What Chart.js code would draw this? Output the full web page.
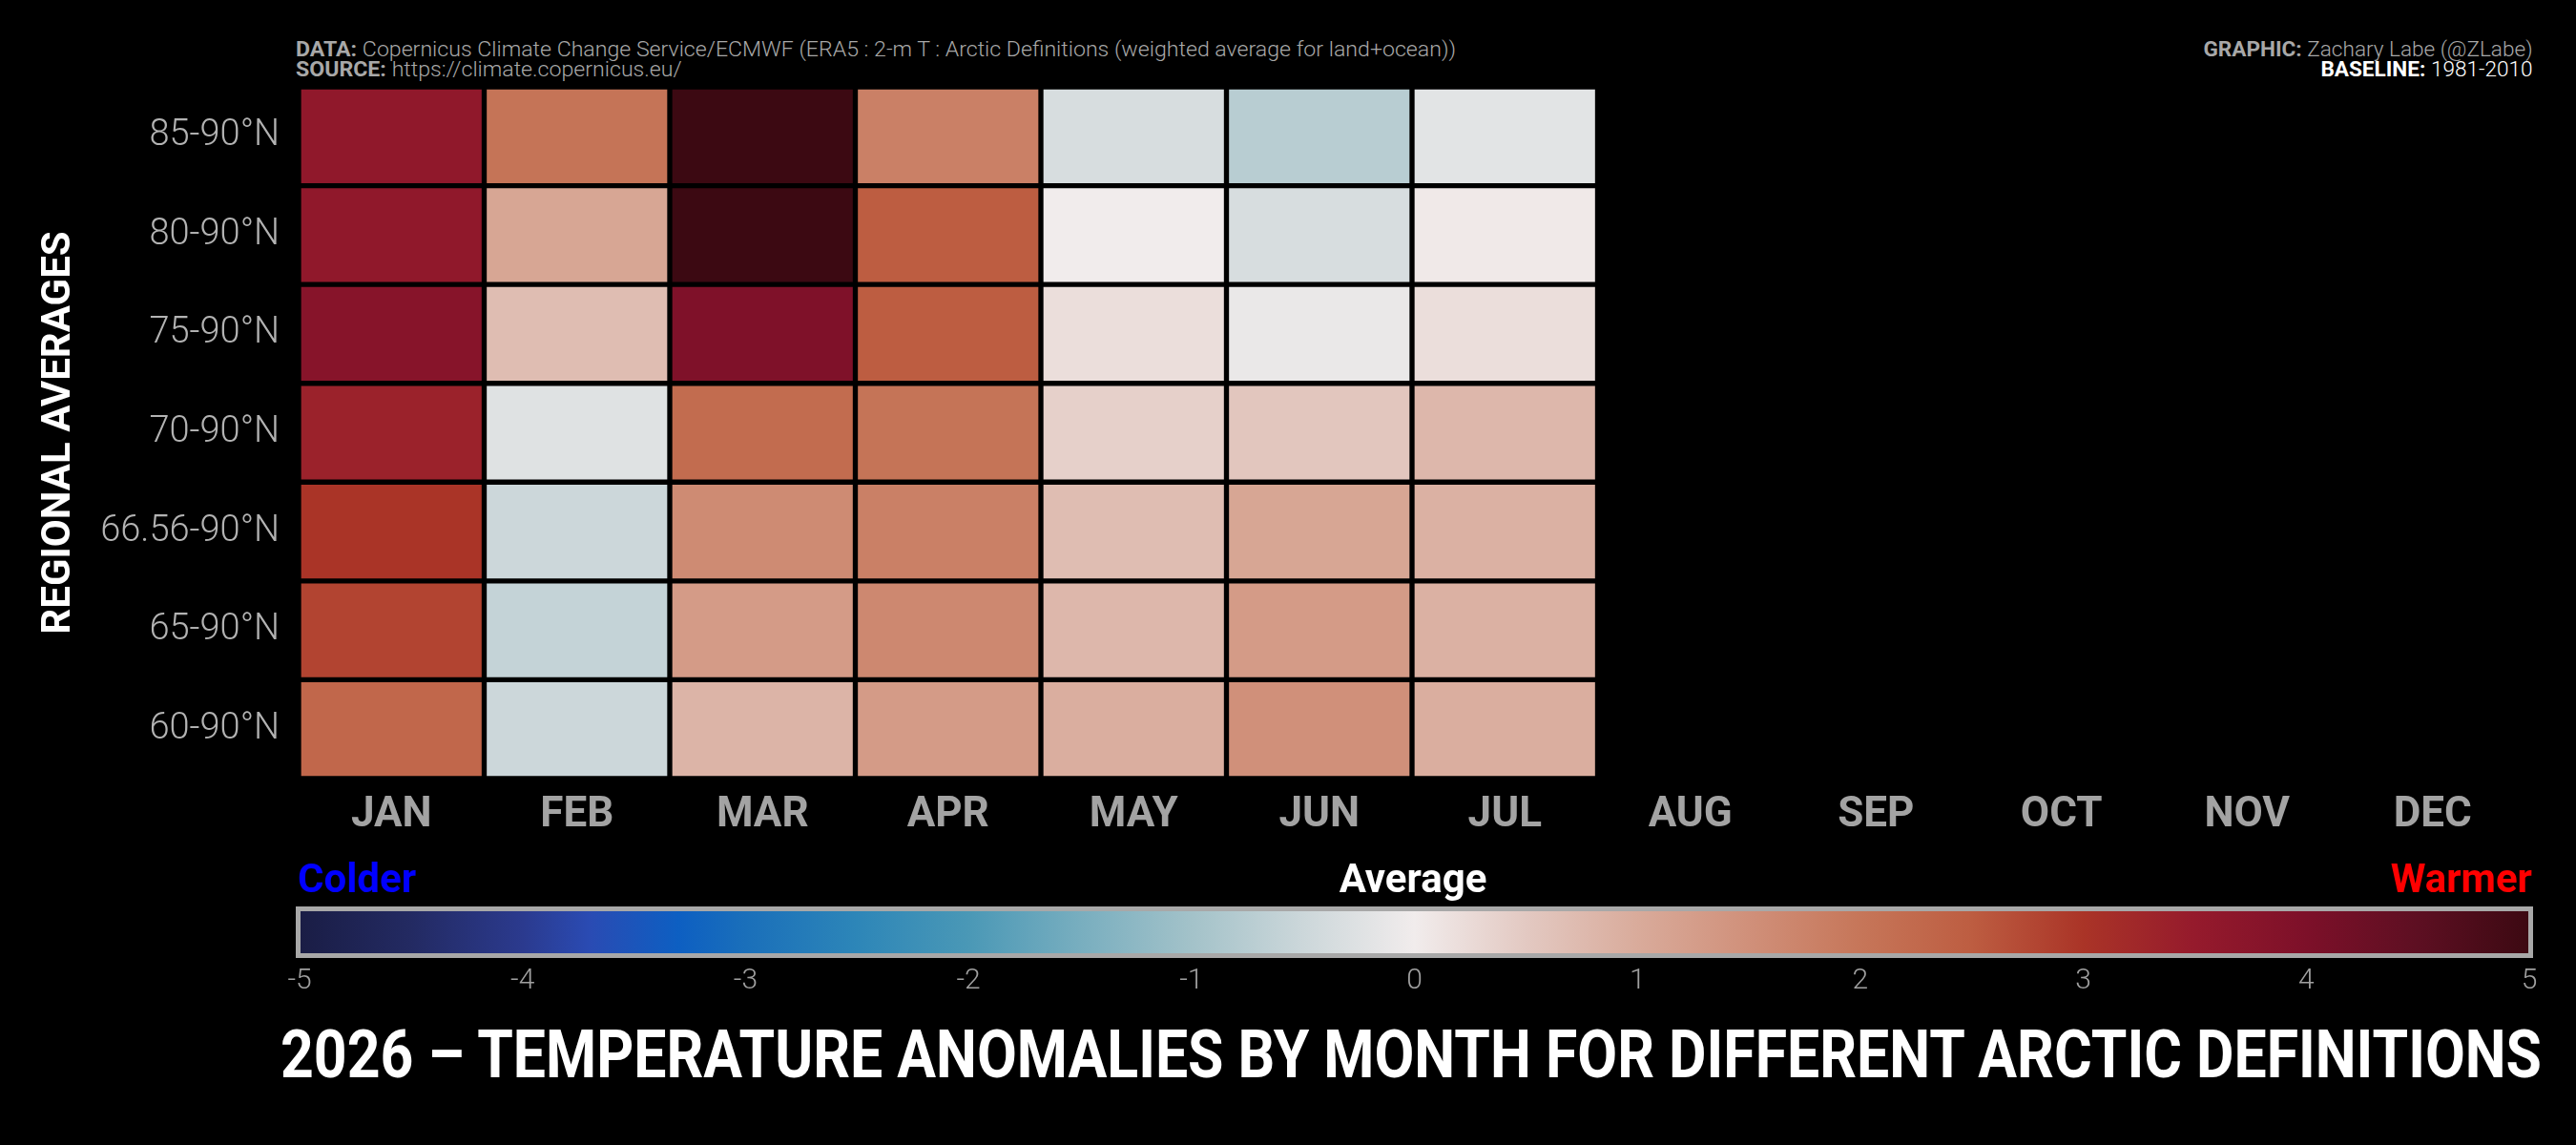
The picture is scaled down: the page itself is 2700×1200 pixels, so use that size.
<!DOCTYPE html>
<html>
<head>
<meta charset="utf-8">
<title>2026 Arctic Temperature Anomalies</title>
<script src="https://cdn.jsdelivr.net/npm/chart.js"></script>
<style>
  body { margin: 0; background: #000; width: 2700px; height: 1200px; position: relative; overflow: hidden; font-family: Roboto, sans-serif; }
  .abs { position: absolute; white-space: nowrap; }
  #heatBox { position: absolute; left: 0; top: 0; width: 2700px; height: 900px; }
  #cbarBox { position: absolute; left: 0; top: 930px; width: 2700px; height: 140px; }
  .lite { font-weight: 300; }
  b { font-weight: 700; }
</style>
</head>
<body>
  <div class="abs" id="credits" style="left:310px; top:41px; font-size:22px; line-height:21px; color:#a8a8a8;">
    <div><b>DATA:</b> <span class="lite">Copernicus Climate Change Service/ECMWF (ERA5 : 2-m T : Arctic Definitions (weighted average for land+ocean))</span></div>
    <div><b>SOURCE:</b> <span class="lite">https://climate.copernicus.eu/</span></div>
  </div>
  <div class="abs" id="author" style="right:46px; top:41px; font-size:22px; line-height:21px; text-align:right;">
    <div style="color:#a8a8a8"><b>GRAPHIC:</b> <span class="lite">Zachary Labe (@ZLabe)</span></div>
    <div style="color:#fff"><b>BASELINE:</b> <span class="lite">1981-2010</span></div>
  </div>

  <div id="heatBox"><canvas id="heat"></canvas></div>

  <div class="abs" style="left:312px; top:900px; font-size:42px; line-height:42px; font-weight:700; color:#0000ff;">Colder</div>
  <div class="abs" style="left:1481px; top:900px; font-size:42px; line-height:42px; font-weight:700; color:#fff; transform:translateX(-50%);">Average</div>
  <div class="abs" style="right:46px; top:900px; font-size:42px; line-height:42px; font-weight:700; color:#ff0000;">Warmer</div>

  <div id="cbarBox"><canvas id="cbar"></canvas></div>

  <div class="abs" id="title" style="left:294px; top:1070px; font-size:70px; line-height:70px; font-weight:700; color:#fff;">2026 – TEMPERATURE ANOMALIES BY MONTH FOR DIFFERENT ARCTIC DEFINITIONS</div>

<script>
// months on x, regions top-to-bottom on y
const months = ['JAN','FEB','MAR','APR','MAY','JUN','JUL','AUG','SEP','OCT','NOV','DEC'];
const regions = ['85-90°N','80-90°N','75-90°N','70-90°N','66.56-90°N','65-90°N','60-90°N'];

// anomalies (°C) per region, JAN..JUL (rest of year not available yet)
const r85 = [3.6, 2.05, 5.0, 1.8, -0.35, -0.75, -0.2];
const r80 = [3.6, 1.1, 5.0, 2.5, 0.0, -0.35, 0.05];
const r75 = [3.8, 0.7, 3.95, 2.5, 0.2, -0.1, 0.2];
const r70 = [3.35, -0.25, 2.2, 2.05, 0.4, 0.55, 0.8];
const r66 = [3.0, -0.5, 1.6, 1.8, 0.7, 1.1, 0.9];
const r65 = [2.8, -0.6, 1.3, 1.65, 0.8, 1.3, 0.9];
const r60 = [2.3, -0.5, 0.85, 1.3, 0.95, 1.5, 0.95];
const rows = [r85, r80, r75, r70, r66, r65, r60];

const cbarTicks = [-5, -4, -3, -2, -1, 0, 1, 2, 3, 4, 5];

// diverging colormap (blue - white - red)
const cmap = [
  [-5, '#1a1d45'], [-4.5, '#232a62'], [-4, '#2b3a8e'], [-3.7, '#2a4bb3'],
  [-3.3, '#0d5fc2'], [-3, '#1a6fba'], [-2.5, '#2d86b8'], [-2, '#4a98b6'],
  [-1.5, '#78aebf'], [-1, '#a3c2c9'], [-0.5, '#ccd7da'], [0, '#f1ecec'],
  [0.5, '#e3c9c2'], [1, '#d9ab9b'], [1.5, '#d0907a'], [2, '#c67659'],
  [2.5, '#bd5d41'], [3, '#aa3427'], [3.5, '#951a2c'], [4, '#7d1029'],
  [4.5, '#5d0f22'], [5, '#3c0912']
];

function hexRgb(h) {
  return [1, 3, 5].map(i => parseInt(h.slice(i, i + 2), 16));
}

function colorFor(v) {
  if (v <= cmap[0][0]) return cmap[0][1];
  if (v >= cmap[cmap.length - 1][0]) return cmap[cmap.length - 1][1];
  for (let i = 0; i < cmap.length - 1; i++) {
    const [v0, c0] = cmap[i], [v1, c1] = cmap[i + 1];
    if (v >= v0 && v <= v1) {
      const t = (v - v0) / (v1 - v0);
      const a = hexRgb(c0), b = hexRgb(c1);
      const c = a.map((x, k) => Math.round(x + (b[k] - x) * t));
      return `rgb(${c[0]},${c[1]},${c[2]})`;
    }
  }
}

Chart.defaults.font.family = 'Roboto, sans-serif';

const nRows = regions.length;

new Chart(document.getElementById('heat'), {
  type: 'bar',
  data: {
    labels: months,
    datasets: rows.map((vals, i) => ({
      label: regions[i],
      data: vals.map(v => v === null ? null : [nRows - 1 - i, nRows - i]),
      backgroundColor: vals.map(colorFor),
      borderColor: '#000',
      borderWidth: 3,
      borderSkipped: false,
      barPercentage: 1,
      categoryPercentage: 1,
      grouped: false
    }))
  },
  options: {
    responsive: true,
    maintainAspectRatio: false,
    animation: false,
    layout: { padding: { top: 91, right: 53, bottom: 4, left: 0 } },
    plugins: { legend: { display: false }, tooltip: { enabled: false } },
    scales: {
      x: {
        grid: { display: false, drawTicks: false },
        border: { display: false },
        ticks: { color: '#a3a3a3', font: { size: 44, weight: 'bold' }, padding: 13, maxRotation: 0, autoSkip: false },
        afterFit: s => { s.height = 80; }
      },
      y: {
        min: 0,
        max: nRows,
        grid: { display: false, drawTicks: false },
        border: { display: false },
        afterBuildTicks: s => { s.ticks = regions.map((_, i) => ({ value: i + 0.5 })); },
        ticks: {
          color: '#b3b3b3',
          font: { size: 38, weight: '300' },
          padding: 20,
          autoSkip: false,
          callback: v => regions[nRows - 1 - Math.floor(v)]
        },
        title: {
          display: true,
          text: 'REGIONAL AVERAGES',
          color: '#fff',
          font: { size: 42, weight: 'bold' },
          padding: { top: 37, bottom: 0 }
        },
        afterFit: s => { s.width = 313; }
      }
    }
  }
});

// colour bar, drawn as one floating bar with the colormap as gradient
function cbarFill(context) {
  const chart = context.chart;
  if (!chart.chartArea) return '#888';
  const xs = chart.scales.x;
  const x0 = xs.getPixelForValue(cbarTicks[0]);
  const x1 = xs.getPixelForValue(cbarTicks[cbarTicks.length - 1]);
  const g = chart.ctx.createLinearGradient(x0, 0, x1, 0);
  cmap.forEach(([v, c]) => g.addColorStop((v + 5) / 10, c));
  return g;
}

new Chart(document.getElementById('cbar'), {
  type: 'bar',
  data: {
    labels: [''],
    datasets: [{
      data: [[cbarTicks[0], cbarTicks[cbarTicks.length - 1]]],
      backgroundColor: cbarFill,
      borderWidth: 0,
      barPercentage: 1,
      categoryPercentage: 1
    }]
  },
  options: {
    indexAxis: 'y',
    responsive: true,
    maintainAspectRatio: false,
    animation: false,
    layout: { padding: { top: 24, left: 314, right: 49, bottom: 0 } },
    plugins: { legend: { display: false }, tooltip: { enabled: false } },
    scales: {
      x: {
        type: 'linear',
        min: -5,
        max: 5,
        grid: { display: false, drawTicks: false },
        border: { display: false },
        afterBuildTicks: s => { s.ticks = cbarTicks.map(v => ({ value: v })); },
        ticks: { color: '#a0a0a0', font: { size: 30, weight: '300' }, padding: 10, autoSkip: false, maxRotation: 0 },
        afterFit: s => { s.height = 70; }
      },
      y: { display: false }
    }
  },
  plugins: [{
    id: 'cbarFrame',
    afterDatasetsDraw(chart) {
      const { ctx, chartArea: a } = chart;
      ctx.save();
      ctx.strokeStyle = '#a8a8a8';
      ctx.lineWidth = 5;
      ctx.strokeRect(a.left - 1.5, a.top - 1.5, a.right - a.left + 3, a.bottom - a.top + 3);
      ctx.restore();
    }
  }]
});

// squeeze text blocks to the widths they take in the original
function fitWidth(id, width, origin) {
  const el = document.getElementById(id);
  const w = el.getBoundingClientRect().width;
  el.style.transformOrigin = origin;
  el.style.transform = `scaleX(${width / w})`;
}
fitWidth('credits', 1216, 'left top');
fitWidth('author', 345, 'right top');
fitWidth('title', 2370, 'left top');
</script>
</body>
</html>
